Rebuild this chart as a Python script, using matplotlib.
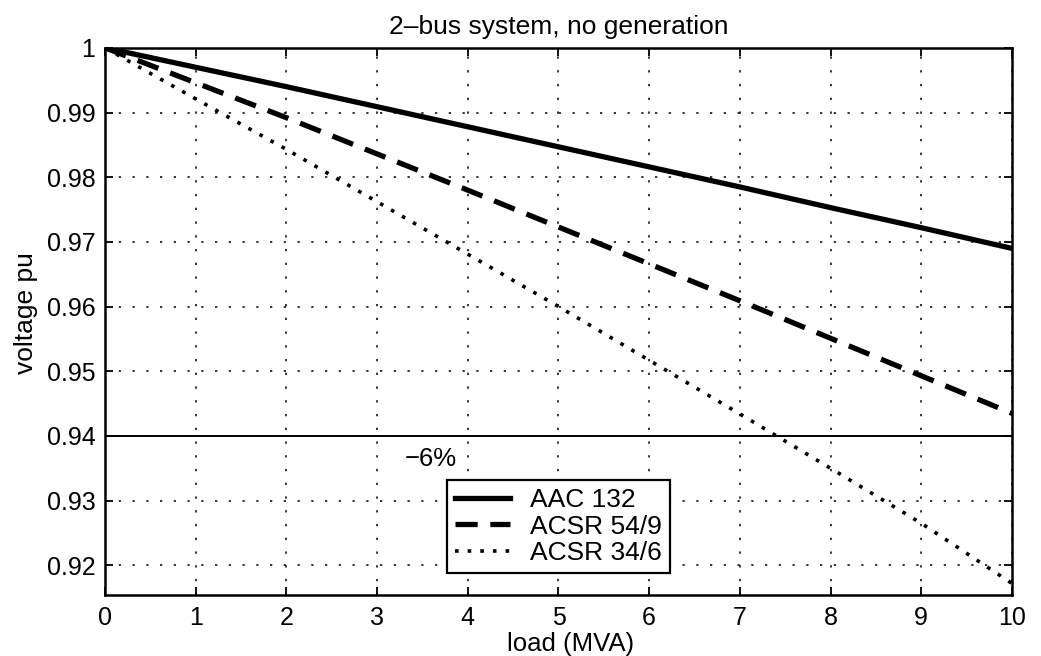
import matplotlib
matplotlib.use('Agg')
import matplotlib.pyplot as plt

plt.rcParams['font.family'] = ['Liberation Sans', 'DejaVu Sans']

# load in MVA
load_mva = [0, 1, 2, 3, 4, 5, 6, 7, 8, 9, 10]

# bus voltage (pu)
v_aac132 = [1.0, 0.9970, 0.9940, 0.9909, 0.9878, 0.9847, 0.9816, 0.9785, 0.9753, 0.9722, 0.9690]
v_acsr549 = [1.0, 0.9946, 0.9892, 0.9836, 0.9780, 0.9723, 0.9666, 0.9609, 0.9551, 0.9493, 0.9435]
v_acsr346 = [1.0, 0.9921, 0.9843, 0.9762, 0.9681, 0.9600, 0.9517, 0.9434, 0.9350, 0.9265, 0.9172]

limit_v = 0.94
limit_label = '\u22126%'

xticks = [0, 1, 2, 3, 4, 5, 6, 7, 8, 9, 10]
yticks = [0.92, 0.93, 0.94, 0.95, 0.96, 0.97, 0.98, 0.99, 1.0]
ytick_labels = ['0.92', '0.93', '0.94', '0.95', '0.96', '0.97', '0.98', '0.99', '1']

fig = plt.figure(figsize=(10.41, 6.56), dpi=100)
ax = fig.add_axes([0.101, 0.093, 0.871, 0.834])

ax.plot(load_mva, v_aac132, color='black', lw=3.8, ls='-', label='AAC 132')
ax.plot(load_mva, v_acsr549, color='black', lw=3.8, ls=(0, (4.2, 2.4)), label='ACSR 54/9')
ax.plot(load_mva, v_acsr346, color='black', lw=2.6, ls=(0, (1, 2.5)), label='ACSR 34/6')

ax.axhline(limit_v, color='black', lw=1.4)
ax.text(3.3, 0.9364, limit_label, fontsize=18.5, va='center', ha='left')

ax.set_xlim(0, 10)
ax.set_ylim(0.9154, 1.0)
ax.set_xticks(xticks)
ax.set_yticks(yticks)
ax.set_yticklabels(ytick_labels)
ax.tick_params(direction='in', length=6, width=1.3, labelsize=18,
               top=True, right=True)
ax.tick_params(axis='x', pad=8)
ax.tick_params(axis='y', pad=7)
ax.grid(True, color='black', ls=(0, (1.5, 7.5)), lw=1.1)
for s in ax.spines.values():
    s.set_linewidth(1.8)

ax.set_title('2\u2013bus system, no generation', fontsize=19, pad=10)
ax.set_xlabel('load (MVA)', fontsize=18.5)
ax.xaxis.set_label_coords(0.513, -0.068)
ax.set_ylabel('voltage pu', fontsize=19)
ax.yaxis.set_label_coords(-0.074, 0.515)

leg = ax.legend(loc='lower left', bbox_to_anchor=(0.377, 0.040), fontsize=19,
                frameon=True, fancybox=False, edgecolor='black', framealpha=1,
                handlelength=2.1, borderpad=0.3, labelspacing=0.1,
                handletextpad=0.75, borderaxespad=0)
leg.get_frame().set_linewidth(1.6)

fig.savefig('out.png', dpi=100)
